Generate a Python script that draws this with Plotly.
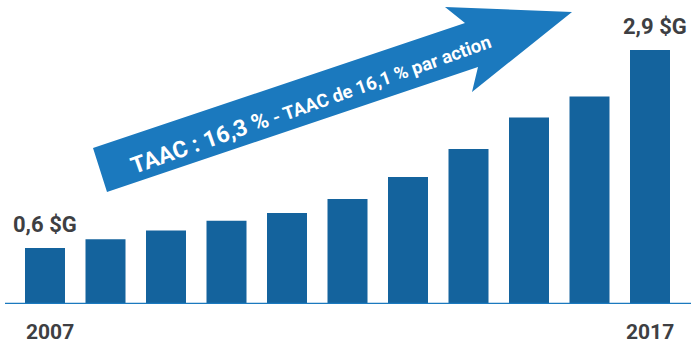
import plotly.graph_objects as go

years = [2007, 2008, 2009, 2010, 2011, 2012, 2013, 2014, 2015, 2016, 2017]
values = [0.64, 0.74, 0.84, 0.95, 1.04, 1.20, 1.45, 1.77, 2.13, 2.37, 2.90]
first_label = "0,6 $G"
last_label = "2,9 $G"
arrow_text_big = "TAAC : 16,3 %"
arrow_text_small = " - TAAC de 16,1 % par action"

W, H = 691, 345
MB = 41
PH = H - MB

def px(x):
    return x / W

def py(y):
    return (PH - y) / PH

FONT = "Roboto, Arial"
TXT = "#3e3f43"
BAR = "#14639d"
ARROW = "#1b79be"

fig = go.Figure()
fig.add_trace(go.Bar(x=years, y=values, width=0.661, marker=dict(color=BAR, line=dict(width=0)),
                     hoverinfo="skip"))

# arrow polygon (decoration)
pts = [(93, 148), (465, 23), (445, 7), (572, 12), (472, 92), (478, 67), (107, 192)]
path = "M " + " L ".join(f"{px(a):.5f},{py(b):.5f}" for a, b in pts) + " Z"
shapes = [
    dict(type="path", xref="paper", yref="paper", path=path, fillcolor=ARROW, line=dict(width=0), layer="above"),
    dict(type="line", xref="paper", yref="y", x0=px(5), x1=1, y0=0, y1=0,
         line=dict(color=ARROW, width=2.5)),
]

annotations = [
    dict(x=px(311), y=py(104), xref="paper", yref="paper", showarrow=False, textangle=-19.5,
         text=f"<b><span style='font-size:23px'>{arrow_text_big}</span>"
              f"<span style='font-size:18.5px'>{arrow_text_small}</span></b>",
         font=dict(family=FONT, color="white")),
    dict(x=years[0], y=values[0], xref="x", yref="y", yanchor="bottom", showarrow=False, yshift=9,
         text=f"<b>{first_label}</b>", font=dict(family=FONT, size=22, color=TXT)),
    dict(x=years[-1], y=values[-1], xref="x", yref="y", yanchor="bottom", showarrow=False, yshift=9, xshift=5,
         text=f"<b>{last_label}</b>", font=dict(family=FONT, size=22, color=TXT)),
    dict(x=years[0], y=0, xref="x", yref="y", yanchor="top", showarrow=False, yshift=-14, xshift=5,
         text=f"<b>{years[0]}</b>", font=dict(family=FONT, size=21, color=TXT)),
    dict(x=years[-1], y=0, xref="x", yref="y", yanchor="top", showarrow=False, yshift=-14, xshift=0,
         text=f"<b>{years[-1]}</b>", font=dict(family=FONT, size=21, color=TXT)),
]

x0 = years[0] - 45 / 60.5
x1 = x0 + W / 60.5
fig.update_layout(
    width=W, height=H, margin=dict(l=0, r=0, t=0, b=MB),
    paper_bgcolor="white", plot_bgcolor="white", showlegend=False,
    xaxis=dict(range=[x0, x1], visible=False, fixedrange=True),
    yaxis=dict(range=[0, PH / 87.6], visible=False, fixedrange=True),
    shapes=shapes, annotations=annotations,
)
fig.write_html("out.html")
